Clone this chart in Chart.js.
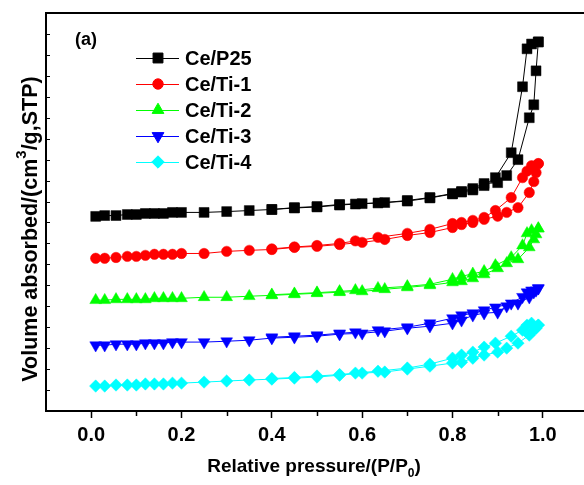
<!DOCTYPE html>
<html>
<head>
<meta charset="utf-8">
<script src="https://cdn.jsdelivr.net/npm/chart.js@4.4.0/dist/chart.umd.min.js"></script>
<style>
  html, body { margin: 0; padding: 0; background: #fff; overflow: hidden; }
  #chart { display: block; }
</style>
</head>
<body>
<canvas id="chart" width="588" height="485"></canvas>
<script>
// sample names (legend order)
const samples = ['Ce/P25', 'Ce/Ti-1', 'Ce/Ti-2', 'Ce/Ti-3', 'Ce/Ti-4'];

// relative pressure of the adsorption and desorption branches
const adsP = [0.01, 0.03, 0.055, 0.08, 0.10, 0.12, 0.14, 0.16, 0.18, 0.20,
    0.25, 0.30, 0.35, 0.40, 0.45, 0.50, 0.55, 0.60, 0.65, 0.70, 0.75,
    0.80, 0.82, 0.845, 0.87, 0.90, 0.92, 0.945, 0.97, 0.98, 0.985, 0.99];
const desP = [0.99, 0.975, 0.965, 0.955, 0.93, 0.895, 0.87, 0.845, 0.82, 0.80,
    0.75, 0.70, 0.635, 0.585, 0.55, 0.50, 0.45, 0.40];

// volume (curves are offset, arbitrary units)
const p25Ads = [9.29, 9.33, 9.33, 9.38, 9.38, 9.43, 9.43, 9.43, 9.48, 9.48,
    9.48, 9.52, 9.57, 9.62, 9.71, 9.76, 9.86, 9.90, 9.95, 10.05, 10.19,
    10.38, 10.48, 10.62, 10.86, 10.90, 11.24, 12.0, 14.0, 14.62, 16.24, 17.62];
const p25Des = [17.62, 17.52, 17.29, 15.48, 12.33, 11.14, 10.76, 10.55, 10.45, 10.36,
    10.17, 10.02, 9.93, 9.88, 9.83, 9.74, 9.69, 9.62];

const ti1Ads = [7.29, 7.29, 7.33, 7.38, 7.38, 7.43, 7.48, 7.48, 7.48, 7.52,
    7.52, 7.62, 7.67, 7.71, 7.81, 7.86, 7.95, 8.05, 8.19, 8.38, 8.52,
    8.76, 8.90, 9.0, 9.15, 9.30, 9.48, 9.71, 10.43, 10.95, 11.38, 11.81];
const ti1Des = [11.81, 11.71, 11.45, 11.14, 10.19, 9.57, 9.24, 9.10, 9.0, 8.95,
    8.67, 8.48, 8.29, 8.12, 8.0, 7.90, 7.83, 7.74];

const ti2Ads = [5.29, 5.29, 5.33, 5.33, 5.33, 5.33, 5.38, 5.38, 5.38, 5.38,
    5.43, 5.43, 5.48, 5.52, 5.57, 5.62, 5.67, 5.71, 5.81, 5.90, 6.00,
    6.14, 6.19, 6.33, 6.52, 6.81, 7.05, 7.24, 7.81, 8.19, 8.43, 8.71];
const ti2Des = [8.71, 8.62, 8.48, 7.90, 7.33, 6.95, 6.67, 6.55, 6.43, 6.29,
    6.05, 5.95, 5.86, 5.76, 5.71, 5.65, 5.60, 5.55];

const ti3Ads = [3.14, 3.14, 3.19, 3.19, 3.19, 3.24, 3.24, 3.24, 3.29, 3.29,
    3.29, 3.33, 3.38, 3.48, 3.52, 3.57, 3.67, 3.71, 3.81, 3.95, 4.05,
    4.19, 4.33, 4.57, 4.67, 4.71, 5.0, 5.14, 5.43, 5.67, 5.76, 5.86];
const ti3Des = [5.86, 5.76, 5.67, 5.45, 5.14, 4.95, 4.81, 4.67, 4.57, 4.43,
    4.19, 4.0, 3.86, 3.76, 3.71, 3.62, 3.57, 3.52];

const ti4Ads = [1.19, 1.19, 1.24, 1.24, 1.24, 1.29, 1.29, 1.29, 1.33, 1.33,
    1.38, 1.43, 1.48, 1.52, 1.57, 1.62, 1.71, 1.81, 1.86, 2.0, 2.14,
    2.29, 2.33, 2.52, 2.67, 2.81, 3.0, 3.24, 3.62, 3.86, 3.95, 4.10];
const ti4Des = [4.10, 4.19, 4.10, 3.86, 3.57, 3.24, 3.05, 2.81, 2.67, 2.52,
    2.24, 2.05, 1.90, 1.81, 1.74, 1.67, 1.60, 1.55];

// axis ticks
const xTickLabels = [0.0, 0.2, 0.4, 0.6, 0.8, 1.0];
const xMinorTicks = [0.1, 0.3, 0.5, 0.7, 0.9];
const yMinorTicks = [1, 2, 3, 4, 5, 6, 7, 8, 9, 10, 11, 12, 13, 14, 15, 16, 17, 18];

const adsSets = [p25Ads, ti1Ads, ti2Ads, ti3Ads, ti4Ads];
const desSets = [p25Des, ti1Des, ti2Des, ti3Des, ti4Des];

// styles
const colors = ['#000000', '#ff0000', '#00ff00', '#0000ff', '#00ffff'];
const pointStyles = [
    { pointStyle: 'rect', radius: 7, rotation: 0 },
    { pointStyle: 'circle', radius: 5.2, rotation: 0 },
    { pointStyle: 'triangle', radius: 6.8, rotation: 0 },
    { pointStyle: 'triangle', radius: 6.8, rotation: 180 },
    { pointStyle: 'rectRot', radius: 6.2, rotation: 0 }
];
const FONT = '"Liberation Sans", Arial, sans-serif';

function toPoints(xs, ys) {
    return xs.map((x, i) => ({ x: x, y: ys[i] }));
}

const datasets = [];
samples.forEach((name, i) => {
    const st = pointStyles[i];
    [toPoints(adsP, adsSets[i]), toPoints(desP, desSets[i])].forEach(pts => {
        datasets.push({
            label: name,
            data: pts,
            borderColor: colors[i],
            backgroundColor: colors[i],
            borderWidth: 1,
            pointStyle: st.pointStyle,
            pointRadius: st.radius,
            pointRotation: st.rotation,
            pointBorderWidth: 0.5,
            pointBorderColor: colors[i],
            pointBackgroundColor: colors[i],
            tension: 0
        });
    });
});

const decorPlugin = {
    id: 'decor',
    afterDraw(chart) {
        const ctx = chart.ctx;
        const area = chart.chartArea;
        const xs = chart.scales.x;
        const ys = chart.scales.y;
        ctx.save();
        ctx.strokeStyle = '#000';

        // top frame line
        ctx.lineWidth = 2;
        ctx.beginPath();
        ctx.moveTo(area.left - 1, area.top);
        ctx.lineTo(area.right, area.top);
        ctx.stroke();

        // minor x ticks (outward)
        ctx.lineWidth = 1.5;
        xMinorTicks.forEach(v => {
            const px = Math.round(xs.getPixelForValue(v)) + 0.5;
            ctx.beginPath();
            ctx.moveTo(px, area.bottom);
            ctx.lineTo(px, area.bottom + 5);
            ctx.stroke();
        });

        // y ticks (inward, no labels)
        ctx.lineWidth = 1;
        yMinorTicks.forEach(v => {
            const py = Math.round(ys.getPixelForValue(v)) + 0.5;
            ctx.beginPath();
            ctx.moveTo(area.left, py);
            ctx.lineTo(area.left + 4, py);
            ctx.stroke();
        });

        // x title with subscript
        ctx.fillStyle = '#000';
        ctx.textBaseline = 'middle';
        const big = 'bold 19px ' + FONT;
        const small = 'bold 12px ' + FONT;
        const t1 = 'Relative pressure/(P/P', t2 = '0', t3 = ')';
        ctx.font = big;
        const w1 = ctx.measureText(t1).width, w3 = ctx.measureText(t3).width;
        ctx.font = small;
        const w2 = ctx.measureText(t2).width;
        let tx = 314 - (w1 + w2 + w3) / 2;
        const ty = 467;
        ctx.font = big;
        ctx.textAlign = 'left';
        ctx.fillText(t1, tx, ty);
        ctx.font = small;
        ctx.fillText(t2, tx + w1, ty + 7);
        ctx.font = big;
        ctx.fillText(t3, tx + w1 + w2, ty);

        // y title with superscript
        ctx.save();
        ctx.translate(31, 229);
        ctx.rotate(-Math.PI / 2);
        const yBig = 'bold 21.5px ' + FONT;
        const ySmall = 'bold 15px ' + FONT;
        const s1 = 'Volume absorbed/(cm', s2 = '3', s3 = '/g,STP)';
        ctx.font = yBig;
        const a1 = ctx.measureText(s1).width, a3 = ctx.measureText(s3).width;
        ctx.font = ySmall;
        const a2 = ctx.measureText(s2).width;
        let sx = -(a1 + a2 + a3) / 2;
        ctx.font = yBig;
        ctx.fillText(s1, sx, 0);
        ctx.font = ySmall;
        ctx.fillText(s2, sx + a1, -9);
        ctx.font = yBig;
        ctx.fillText(s3, sx + a1 + a2, 0);
        ctx.restore();

        // panel label
        ctx.font = 'bold 18px ' + FONT;
        ctx.fillText('(a)', 75, 40);

        // legend
        samples.forEach((name, i) => {
            const ly = 58 + i * 26;
            ctx.strokeStyle = colors[i];
            ctx.fillStyle = colors[i];
            ctx.lineWidth = 1;
            ctx.beginPath();
            ctx.moveTo(136, ly + 0.5);
            ctx.lineTo(179, ly + 0.5);
            ctx.stroke();
            const st = pointStyles[i];
            Chart.helpers.drawPoint(ctx, {
                pointStyle: st.pointStyle,
                radius: st.radius,
                rotation: st.rotation,
                borderWidth: 0.5
            }, 158, ly);
            ctx.fillStyle = '#000';
            ctx.font = 'bold 20px ' + FONT;
            ctx.fillText(name, 185, ly + 1);
        });
        ctx.restore();
    }
};

new Chart(document.getElementById('chart'), {
    type: 'line',
    data: { datasets: datasets },
    options: {
        responsive: false,
        animation: false,
        layout: { autoPadding: false, padding: { top: 13, left: 0, right: 0, bottom: 0 } },
        plugins: {
            legend: { display: false },
            tooltip: { enabled: false }
        },
        scales: {
            x: {
                type: 'linear',
                min: -0.1,
                max: 1.1,
                afterFit: function (scale) {
                    scale.height = 74;
                    scale.paddingLeft = 0;
                    scale.paddingRight = 0;
                },
                afterBuildTicks: function (scale) {
                    scale.ticks = xTickLabels.map(v => ({ value: v }));
                },
                grid: {
                    display: true,
                    drawOnChartArea: false,
                    drawTicks: true,
                    tickLength: 7,
                    tickWidth: 1.5,
                    tickColor: '#000'
                },
                border: { display: true, color: '#000', width: 2 },
                ticks: {
                    color: '#000',
                    padding: 5,
                    maxRotation: 0,
                    font: { family: FONT, size: 20, weight: 'bold' },
                    callback: function (value) { return Number(value).toFixed(1); }
                }
            },
            y: {
                min: 0,
                max: 19,
                afterFit: function (scale) { scale.width = 46; },
                grid: { display: false },
                border: { display: true, color: '#000', width: 2 },
                ticks: { display: false }
            }
        }
    },
    plugins: [decorPlugin]
});
</script>
</body>
</html>
